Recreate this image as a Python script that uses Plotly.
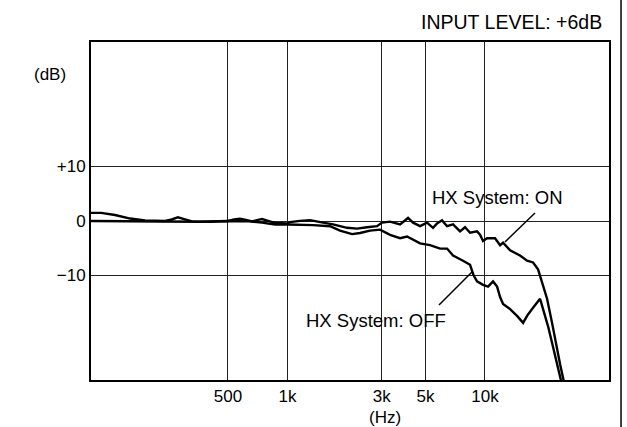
import plotly.graph_objects as go

# ---- data ----
freq_on = [101, 114, 134, 160, 190, 240, 260, 279, 300, 329, 406, 500, 537, 575, 617, 662, 710, 744, 798, 865,
           1007, 1031, 1158, 1301, 1515, 1702, 2003, 2251, 2529, 2842, 3013, 3308, 3717, 3894, 4080, 4324, 4693,
           5091, 5460, 5721, 6065, 6429, 6895, 7478, 7928, 8404, 9120, 9445, 9781, 10250, 11250, 11930, 12350,
           13400, 15050, 16340, 17520, 18570, 19460, 20630, 21860, 23180, 24010, 25440]
db_on = [1.5, 1.5, 1.1, 0.45, 0.1, 0.0, 0.28, 0.69, 0.36, -0.06, -0.15, 0.0, 0.28, 0.4, 0.2, -0.06, 0.2, 0.36, 0.03, -0.34,
         -0.44, -0.19, 0.03, 0.16, -0.3, -0.63, -1.25, -1.39, -1.14, -0.95, -0.3, -0.11, -0.63, -0.06, 0.56, -0.3, -0.95,
         -0.3, -1.25, -0.44, 0.12, -0.95, -0.63, -1.9, -1.14, -2.15, -1.9, -2.53, -3.67, -3.16, -3.16, -4.43, -3.99,
         -5.38, -6.33, -7.28, -7.6, -8.86, -11.08, -14.26, -18.69, -23.76, -26.29, -30.47]

freq_off = [101, 160, 250, 361, 500, 640, 744, 865, 1007, 1158, 1348, 1643, 1846, 2124, 2331, 2620, 2944, 3308,
            3717, 4033, 4693, 5272, 5925, 6429, 6895, 7745, 8404, 8756, 9120, 9781, 10370, 10990, 11520, 11930,
            12350, 13400, 14540, 15600, 16340, 17320, 18360, 19010, 19690, 20870, 22120, 23450, 24570]
db_off = [0.0, -0.06, -0.15, -0.15, 0.0, -0.06, -0.3, -0.63, -0.63, -0.63, -0.76, -0.95, -1.77, -2.4, -2.2, -1.77, -1.58, -2.53,
          -3.16, -2.85, -4.11, -4.43, -5.06, -5.06, -6.33, -7.28, -8.04, -9.95, -11.08, -11.7, -12.03, -11.08, -12.03, -13.94,
          -15.21, -16.16, -17.41, -18.69, -17.41, -16.16, -14.89, -14.26, -16.16, -19.32, -23.12, -26.92, -30.1]

x_tick_vals = [500, 1000, 3000, 5000, 10000]
x_tick_text = ["500", "1k", "3k", "5k", "10k"]
y_tick_vals = [10, 0, -10]
y_tick_text = ["+10", "0", "\u221210"]

FONT = "Liberation Sans, Arial, Helvetica, sans-serif"

fig = go.Figure()
fig.add_trace(go.Scatter(x=freq_on, y=db_on, mode="lines", name="HX System: ON",
                         line=dict(color="black", width=2.4)))
fig.add_trace(go.Scatter(x=freq_off, y=db_off, mode="lines", name="HX System: OFF",
                         line=dict(color="black", width=2.4)))

fig.update_layout(
    width=627, height=427,
    margin=dict(l=91, r=18, t=42, b=47),
    paper_bgcolor="white", plot_bgcolor="white",
    showlegend=False,
    font=dict(family=FONT, size=17, color="black"),
    xaxis=dict(type="log", range=[2.0056, 4.628], tickvals=x_tick_vals, ticktext=x_tick_text,
               showgrid=True, gridcolor="#222222", gridwidth=1, zeroline=False,
               showline=True, linecolor="black", linewidth=2, mirror=True, ticks="",
               tickfont=dict(size=17)),
    yaxis=dict(range=[-29.17, 32.84], tickvals=y_tick_vals, ticktext=y_tick_text,
               showgrid=True, gridcolor="#222222", gridwidth=1, zeroline=False,
               showline=True, linecolor="black", linewidth=2, mirror=True, ticks="",
               tickfont=dict(size=17)),
)

ann = [
    dict(text="INPUT LEVEL: +6dB", x=0.990, y=1.059, xanchor="right", yanchor="middle", font=dict(size=19.5)),
    dict(text="(dB)", x=-0.080, y=0.905, xanchor="center", yanchor="middle", font=dict(size=17)),
    dict(text="(Hz)", x=0.5676, y=-0.1124, xanchor="center", yanchor="middle", font=dict(size=17)),
    dict(text="HX System: ON", x=0.7838, y=0.5385, xanchor="center", yanchor="middle", font=dict(size=18.5)),
    dict(text="HX System: OFF", x=0.5502, y=0.1746, xanchor="center", yanchor="middle", font=dict(size=18.5)),
]
for a in ann:
    fig.add_annotation(xref="paper", yref="paper", showarrow=False, **a)

# pointer lines and scan border
fig.add_shape(type="line", xref="paper", yref="paper", x0=0.8571, y0=0.4941, x1=0.7992, y1=0.4083,
              line=dict(color="black", width=1.5))
fig.add_shape(type="line", xref="paper", yref="paper", x0=0.6718, y0=0.2219, x1=0.7355, y1=0.3195,
              line=dict(color="black", width=1.5))
fig.add_shape(type="line", xref="paper", yref="paper", x0=1.0232, y0=1.13, x1=1.0232, y1=-0.14,
              line=dict(color="black", width=1.5))

fig.write_html("out.html", config={"displayModeBar": False},
               post_script="document.body.style.margin='0px';")
